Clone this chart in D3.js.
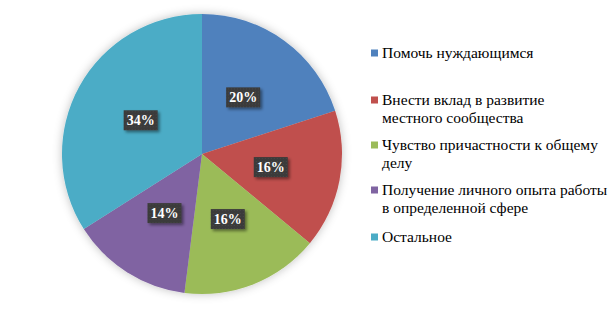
<!DOCTYPE html>
<html>
<head>
<meta charset="utf-8">
<title>Pie</title>
<script src="https://cdnjs.cloudflare.com/ajax/libs/d3/7.8.5/d3.min.js"></script>
<style>
body { margin: 0; background: #fff; }
</style>
</head>
<body>
<svg id="vis" width="616" height="310"></svg>
<script>
var categories = [
  ["Помочь нуждающимся"],
  ["Внести вклад в развитие", "местного сообщества"],
  ["Чувство причастности к общему", "делу"],
  ["Получение личного опыта работы", "в определенной сфере"],
  ["Остальное"]
];
var values = [20, 16, 16, 14, 34];
var colors = ["#4F81BD", "#C0504D", "#9BBB59", "#8064A2", "#4BACC6"];

var FONT = "'Liberation Serif', 'DejaVu Serif', 'Noto Serif', 'Times New Roman', serif";

var svg = d3.select("#vis");
var cx = 202, cy = 154, R = 140;

var defs = svg.append("defs");
var f = defs.append("filter").attr("id", "pieShadow")
  .attr("x", "-20%").attr("y", "-20%").attr("width", "140%").attr("height", "140%");
f.append("feGaussianBlur").attr("in", "SourceAlpha").attr("stdDeviation", 5).attr("result", "b");
f.append("feFlood").attr("flood-color", "#000").attr("flood-opacity", 0.25);
f.append("feComposite").attr("in2", "b").attr("operator", "in").attr("result", "s");
var fm = f.append("feMerge");
fm.append("feMergeNode").attr("in", "s");
fm.append("feMergeNode").attr("in", "SourceGraphic");

var f2 = defs.append("filter").attr("id", "boxShadow")
  .attr("x", "-30%").attr("y", "-30%").attr("width", "160%").attr("height", "160%");
f2.append("feGaussianBlur").attr("in", "SourceAlpha").attr("stdDeviation", 1.5).attr("result", "b");
f2.append("feOffset").attr("dx", 2).attr("dy", 2).attr("result", "o");
f2.append("feFlood").attr("flood-color", "#000").attr("flood-opacity", 0.45);
f2.append("feComposite").attr("in2", "o").attr("operator", "in").attr("result", "s");
var fm2 = f2.append("feMerge");
fm2.append("feMergeNode").attr("in", "s");
fm2.append("feMergeNode").attr("in", "SourceGraphic");

var pat = defs.append("pattern").attr("id", "dots")
  .attr("width", 3).attr("height", 3).attr("patternUnits", "userSpaceOnUse");
pat.append("rect").attr("width", 3).attr("height", 3).attr("fill", "#3a3a3a");
pat.append("rect").attr("width", 1).attr("height", 1).attr("fill", "#4a4a4a");

var pie = d3.pie().sort(null).value(d => d);
var arcs = pie(values);
var arc = d3.arc().innerRadius(0).outerRadius(R);
var labelArc = d3.arc().innerRadius(R / 2).outerRadius(R / 2);

var g = svg.append("g").attr("transform", `translate(${cx},${cy})`);

g.append("g").attr("filter", "url(#pieShadow)")
  .selectAll("path")
  .data(arcs)
  .enter().append("path")
    .attr("d", arc)
    .attr("fill", (d, i) => colors[i]);

var fmt = d => d3.format(".0%")(d / 100);

var lbl = g.selectAll(".lbl")
  .data(arcs)
  .enter().append("g")
    .attr("class", "lbl")
    .attr("transform", d => `translate(${labelArc.centroid(d)})`);

lbl.append("rect")
  .attr("x", -17).attr("y", -10)
  .attr("width", 34).attr("height", 20)
  .attr("fill", "url(#dots)")
  .attr("filter", "url(#boxShadow)");

lbl.append("text")
  .attr("text-anchor", "middle")
  .attr("dy", "0.35em")
  .style("font-family", FONT)
  .style("font-size", "14px")
  .style("font-weight", "bold")
  .style("fill", "#fff")
  .text(d => fmt(d.data));

var legendY = [53, 100, 145, 190, 237];
var lineH = 18;

var legend = svg.append("g").attr("class", "legend");
var item = legend.selectAll("g")
  .data(categories)
  .enter().append("g")
    .attr("transform", (d, i) => `translate(371,${legendY[i]})`);

item.append("rect")
  .attr("x", 0).attr("y", -3.5)
  .attr("width", 7).attr("height", 7)
  .attr("fill", (d, i) => colors[i]);

item.each(function (lines) {
  var t = d3.select(this).append("text").attr("x", 11).attr("y", 0)
    .style("font-family", FONT)
    .style("font-size", "15.5px")
    .style("fill", "#000");
  lines.forEach(function (ln, j) {
    t.append("tspan").attr("x", 11).attr("dy", j === 0 ? "0.33em" : lineH).text(ln);
  });
});
</script>
</body>
</html>
